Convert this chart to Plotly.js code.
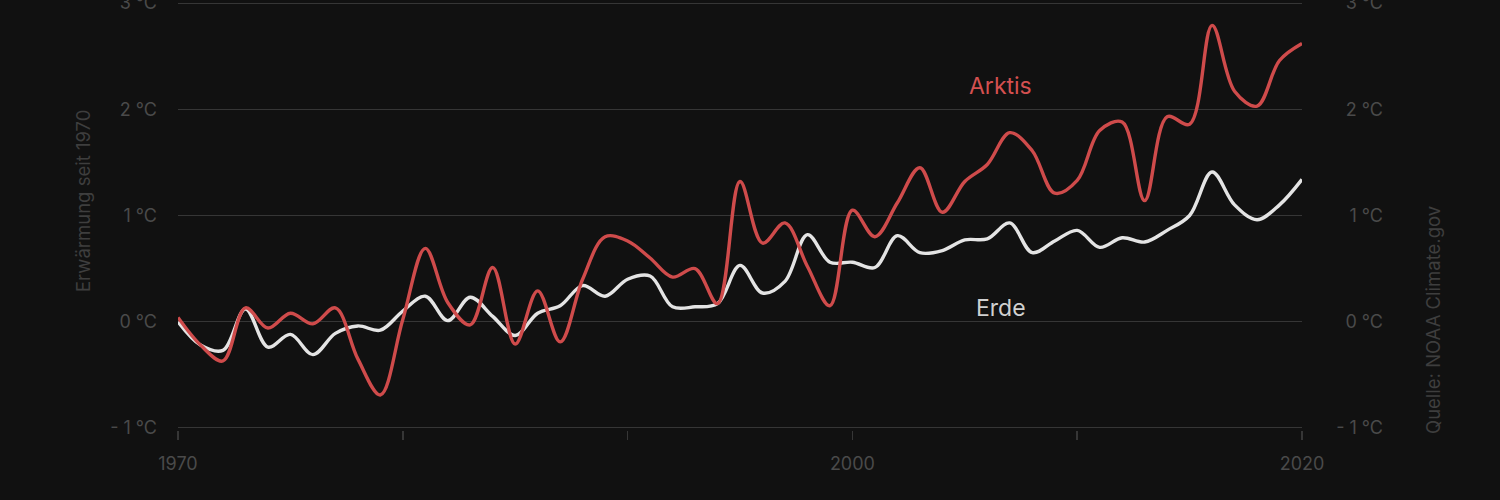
<!DOCTYPE html>
<html>
<head>
<meta charset="utf-8">
<script src="https://cdn.plot.ly/plotly-3.0.1.min.js"></script>
<style>
  html, body { margin: 0; padding: 0; background: #111111; }
  #chart { width: 1500px; height: 500px; }
</style>
</head>
<body>
<div id="chart"></div>
<script>
const years = [1970,1971,1972,1973,1974,1975,1976,1977,1978,1979,
               1980,1981,1982,1983,1984,1985,1986,1987,1988,1989,
               1990,1991,1992,1993,1994,1995,1996,1997,1998,1999,
               2000,2001,2002,2003,2004,2005,2006,2007,2008,2009,
               2010,2011,2012,2013,2014,2015,2016,2017,2018,2019,2020];

const arktis = [0.04,-0.22,-0.37,0.13,-0.06,0.08,-0.02,0.13,-0.35,-0.69,
                0.02,0.69,0.18,-0.03,0.51,-0.21,0.29,-0.19,0.40,0.80,
                0.76,0.60,0.42,0.50,0.17,1.32,0.74,0.93,0.52,0.15,
                1.05,0.80,1.12,1.45,1.03,1.32,1.48,1.78,1.61,1.21,
                1.33,1.80,1.88,1.14,1.93,1.86,2.79,2.17,2.03,2.46,2.62];

const erde = [0.00,-0.22,-0.27,0.12,-0.24,-0.12,-0.31,-0.11,-0.04,-0.08,
              0.10,0.24,0.01,0.23,0.05,-0.13,0.08,0.15,0.34,0.24,
              0.40,0.43,0.14,0.14,0.17,0.53,0.27,0.38,0.82,0.56,
              0.56,0.51,0.81,0.65,0.67,0.77,0.78,0.93,0.65,0.76,
              0.86,0.70,0.79,0.75,0.86,1.00,1.41,1.10,0.96,1.10,1.34];

const xTickVals = [1970,1980,1990,2000,2010,2020];
const xTickText = ['1970','','','2000','','2020'];
const yTickVals = [-1,0,1,2,3];
const yTickText = ['- 1 °C','0 °C','1 °C','2 °C','3 °C'];

const seriesLabels = [
  {text: 'Arktis', x: 2006.6, y: 2.22, color: '#d45050'},
  {text: 'Erde', x: 2006.6, y: 0.13, color: '#d0d0d0'}
];
const yTitle = 'Erwärmung seit 1970';
const sourceText = 'Quelle: NOAA Climate.gov';

const FONT = 'Inter, "Noto Sans", sans-serif';
const GRID = '#363636';
const TICKC = '#4a4a4a';

const W = 1500, H = 500, ML = 178, MR = 110, MT = 1, MB = 70;
const plotRight = 1302;
const paperW = W - ML - MR;              // 1212
const paperH = H - MT - MB;              // 429
const xDomEnd = (plotRight - ML) / paperW;
const Y_RANGE = [-1.02, 3.02];
const py = v => (H - MB - v) / paperH;   // pixel row -> paper y

const traces = [
  {
    x: years, y: erde, type: 'scatter', mode: 'lines',
    line: {color: '#e4e4e4', width: 3.4, shape: 'spline', smoothing: 1},
    hoverinfo: 'skip', showlegend: false
  },
  {
    x: years, y: arktis, type: 'scatter', mode: 'lines',
    line: {color: '#cf4b4b', width: 3.4, shape: 'spline', smoothing: 1},
    hoverinfo: 'skip', showlegend: false
  },
  {
    x: years, y: erde, type: 'scatter', mode: 'lines', yaxis: 'y2',
    line: {color: 'rgba(0,0,0,0)', width: 0},
    hoverinfo: 'skip', showlegend: false
  }
];

const annotations = seriesLabels.map(l => ({
  text: l.text, x: l.x, y: l.y, xref: 'x', yref: 'y',
  showarrow: false, xanchor: 'center', yanchor: 'middle',
  font: {family: FONT, size: 23, color: l.color}
}));
annotations.push({
  text: yTitle, textangle: -90, showarrow: false,
  xref: 'paper', yref: 'paper',
  x: (83 - ML) / paperW, y: py(201),
  xanchor: 'center', yanchor: 'middle',
  font: {family: FONT, size: 18.5, color: '#3e3e3e'}
});
annotations.push({
  text: sourceText, textangle: -90, showarrow: false,
  xref: 'paper', yref: 'paper',
  x: (1433 - ML) / paperW, y: py(320),
  xanchor: 'center', yanchor: 'middle',
  font: {family: FONT, size: 18.5, color: '#3e3e3e'}
});

const layout = {
  width: W, height: H,
  paper_bgcolor: '#111111', plot_bgcolor: '#111111',
  margin: {l: ML, r: MR, t: MT, b: MB},
  showlegend: false,
  xaxis: {
    range: [1970, 2020], domain: [0, xDomEnd],
    tickvals: xTickVals, ticktext: xTickText,
    ticks: 'outside', ticklen: 9, tickwidth: 1.5, tickcolor: GRID,
    showgrid: false, zeroline: false, showline: false,
    ticklabelstandoff: 8,
    tickfont: {family: FONT, size: 18, color: TICKC},
    fixedrange: true
  },
  yaxis: {
    range: Y_RANGE, tickvals: yTickVals, ticktext: yTickText,
    showgrid: true, gridcolor: GRID, gridwidth: 1.2,
    zeroline: false, showline: false, ticks: '',
    ticklabelstandoff: 20, ticklabeloverflow: 'allow',
    tickfont: {family: FONT, size: 18, color: TICKC},
    fixedrange: true
  },
  yaxis2: {
    range: Y_RANGE, tickvals: yTickVals, ticktext: yTickText,
    overlaying: 'y', side: 'right', anchor: 'free', position: 1,
    ticklabelposition: 'inside', ticklabeloverflow: 'allow',
    showgrid: false, zeroline: false, showline: false, ticks: '',
    ticklabelstandoff: 4,
    tickfont: {family: FONT, size: 18, color: TICKC},
    fixedrange: true
  },
  annotations: annotations
};

Plotly.newPlot('chart', traces, layout, {staticPlot: true, displayModeBar: false});
</script>
</body>
</html>
